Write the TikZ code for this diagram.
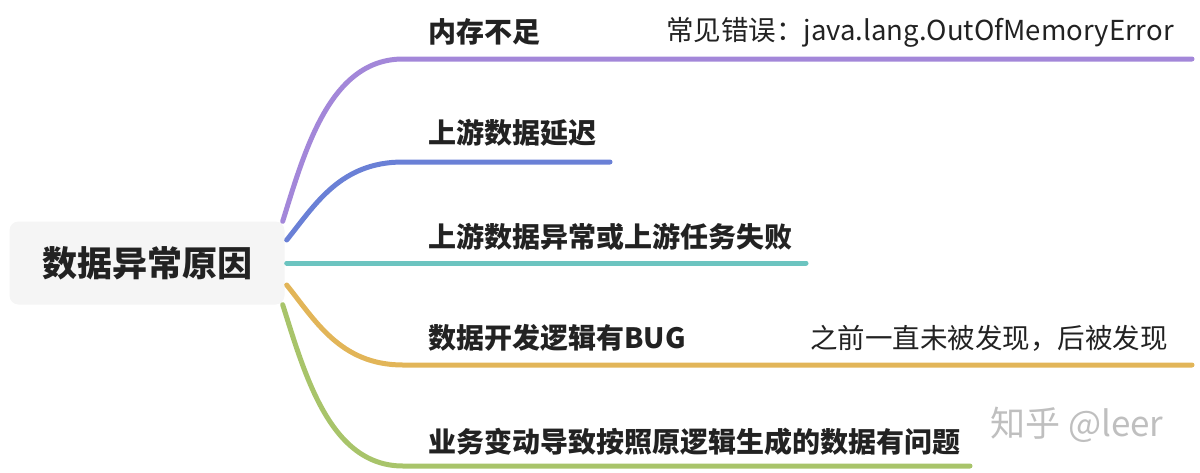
\documentclass[tikz,border=0pt]{standalone}
\usepackage{fontspec}
\setmainfont{Noto Sans CJK SC}
\usetikzlibrary{calc}
\definecolor{brpurple}{RGB}{163,135,217}
\definecolor{brblue}{RGB}{106,128,214}
\definecolor{brteal}{RGB}{108,196,192}
\definecolor{brgold}{RGB}{226,181,88}
\definecolor{brgreen}{RGB}{168,196,106}
\definecolor{inkdark}{RGB}{34,34,34}
\begin{document}
\begin{tikzpicture}[x=1pt, y=-1pt,
    rootbox/.style={fill=black!4, rounded corners=9pt, minimum width=275pt, minimum height=83pt, inner sep=0pt, font=\fontsize{35}{40}\selectfont\bfseries, text=inkdark},
    topic/.style={anchor=west, inner sep=0pt, font=\fontsize{28}{32}\selectfont\bfseries, text=inkdark},
    note/.style={anchor=west, inner sep=0pt, font=\fontsize{27.5}{32}\selectfont, text=inkdark},
    branch/.style={line width=5pt, line cap=round},
]
    \useasboundingbox (0,0) rectangle (1200,472);

    \node[rootbox] (root) at (147,263) {数据异常原因};

    % ends of the branch lines
    \coordinate (memend) at (1192,59);
    \coordinate (delayend) at (610,162);
    \coordinate (failend) at (806,263);
    \coordinate (bugend) at (1192,365);
    \coordinate (bizend) at (970,466);

    \draw[branch, brpurple] ($(root.north east)+(-2,0)$) .. controls (305,150) and (330,59) .. (403,59) -- (memend);
    \draw[branch, brblue] ($(root.east)+(2,-23)$) .. controls (315,205) and (340,162) .. (403,162) -- (delayend);
    \draw[branch, brteal] ($(root.east)+(2,0)$) -- (failend);
    \draw[branch, brgold] ($(root.east)+(2,22)$) .. controls (315,320) and (340,365) .. (403,365) -- (bugend);
    \draw[branch, brgreen] ($(root.south east)+(-2,0)$) .. controls (305,375) and (330,466) .. (403,466) -- (bizend);

    \node[topic] (mem) at (428,32) {内存不足};
    \node[note] (memnote) at (666,32) {常见错误：java.lang.OutOfMemoryError};
    \node[topic] (delay) at (428,133) {上游数据延迟};
    \node[topic] (fail) at (428,237) {上游数据异常或上游任务失败};
    \node[topic] (bug) at (428,338) {数据开发逻辑有BUG};
    \node[note] (bugnote) at (810,338) {之前一直未被发现，后被发现};
    \node[topic] (biz) at (428,442) {业务变动导致按照原逻辑生成的数据有问题};

    \node[anchor=west, inner sep=0pt, font=\fontsize{35}{40}\selectfont, text=black!25] (mark) at (990,425) {知乎 @leer};
\end{tikzpicture}
\end{document}
